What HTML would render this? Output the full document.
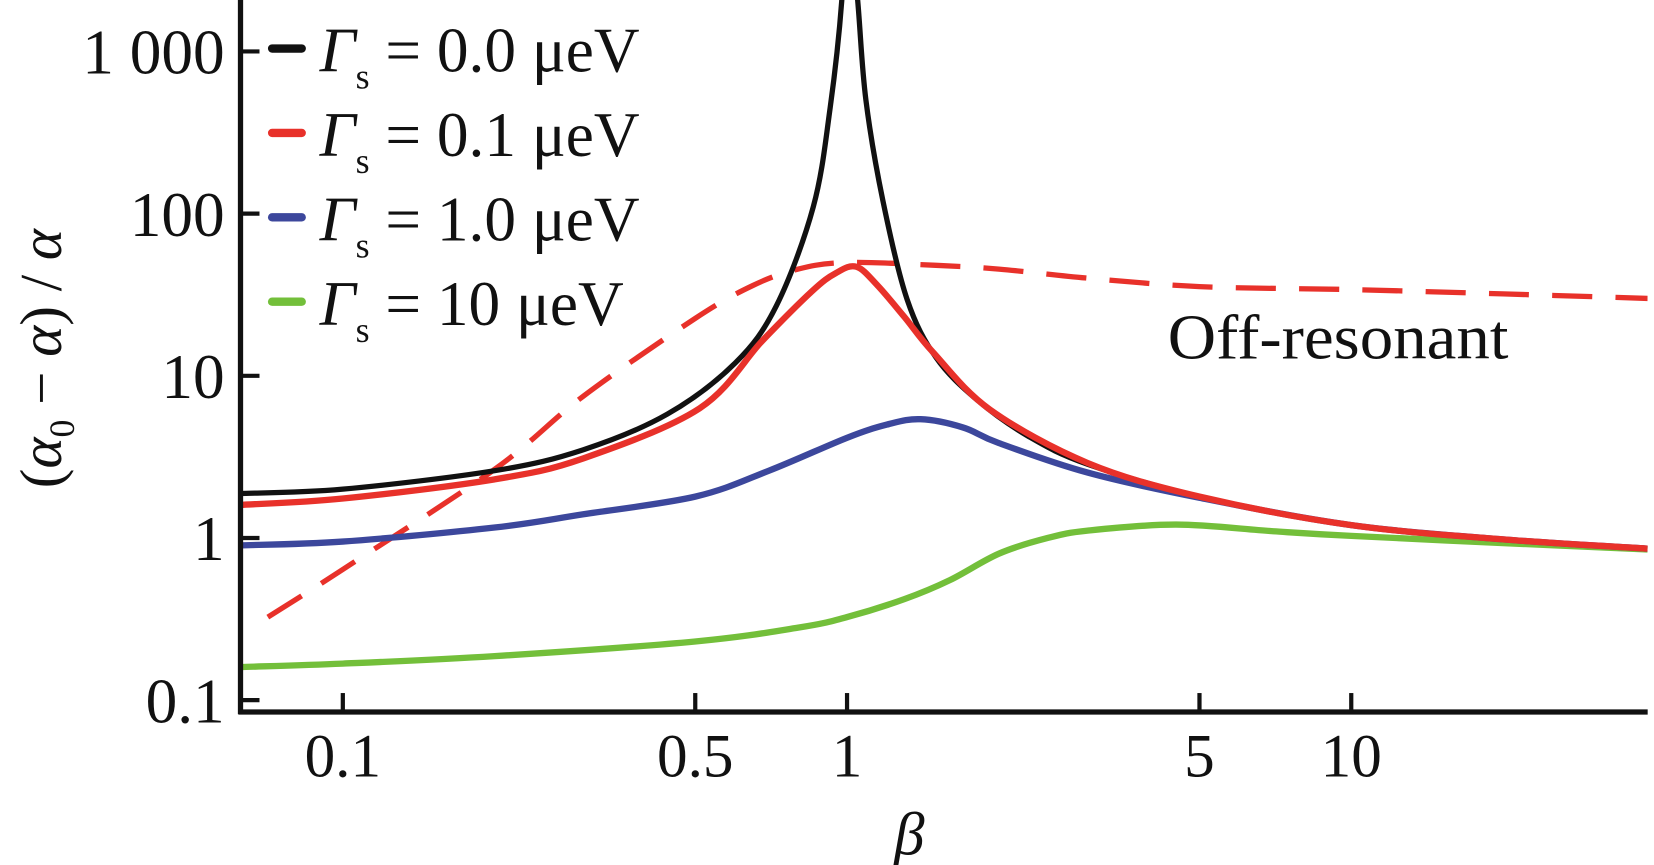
<!DOCTYPE html>
<html><head><meta charset="utf-8"><style>
html,body{margin:0;padding:0;background:#fff;}
svg{display:block;}
text{font-family:"Liberation Serif",serif;fill:#111;}
</style></head><body>
<svg id="chart" width="1654" height="865" viewBox="0 0 1568 820" xmlns="http://www.w3.org/2000/svg">
<g id="plot"></g>
<g id="axes"></g>
<g id="legend"></g>
<text x="1107" y="340" font-size="60" textLength="323" lengthAdjust="spacingAndGlyphs">Off-resonant</text>
<text x="862" y="810" font-size="58" font-style="italic" text-anchor="middle">β</text>
<g transform="translate(58,340) rotate(-90)">
<text text-anchor="middle" font-size="56">(<tspan font-style="italic">α</tspan><tspan font-size="34" dy="12">0</tspan><tspan dy="-12"> − </tspan><tspan font-style="italic">α</tspan>) / <tspan font-style="italic">α</tspan></text>
</g>
</svg>
<script>
const xTicks=[0.1,0.5,1,5,10];
const xTickLabels=["0.1","0.5","1","5","10"];
const yTicks=[1000,100,10,1,0.1];
const yTickLabels=["1 000","100","10","1","0.1"];
const legendValues=["0.0","0.1","1.0","10"];
const colors=["#111111","#e8312a","#3c479c","#73bf3a"];
const blackX=[0.0627,0.1,0.2,0.3,0.44,0.6,0.724,0.857,0.926,0.976,0.995,1.005,1.05,1.09,1.178,1.316,1.5,1.81,2.3,3,5,10,20,38.7];
const blackY=[1.88,2.0,2.6,3.5,5.8,12,27,110,450,2060,9000,9000,2060,500,120,29.5,13,7.1,4.2,2.85,1.8,1.2,0.98,0.86];
const redX=[0.0627,0.1,0.2,0.3,0.51,0.68,0.85,0.95,1.044,1.15,1.3,1.48,1.92,3,5,10,20,38.7];
const redY=[1.6,1.75,2.3,3.1,6.3,16.5,33,43,47,36,23,14,6.2,2.9,1.8,1.2,0.98,0.86];
const blueX=[0.0627,0.1,0.2,0.3,0.5,0.7,1,1.2,1.4,1.7,2,3,5,10,20,38.7];
const blueY=[0.9,0.95,1.16,1.4,1.8,2.6,4.15,5.0,5.4,4.8,3.85,2.53,1.77,1.2,0.98,0.86];
const greenX=[0.0627,0.1,0.2,0.5,0.8,1,1.3,1.6,2,2.5,3,4.5,7,10,20,38.7];
const greenY=[0.16,0.168,0.187,0.23,0.28,0.325,0.42,0.55,0.8,1.0,1.11,1.21,1.1,1.03,0.93,0.85];
const dashX=[0.071,0.1,0.2,0.3,0.5,0.65,0.8,1,1.5,2,3,5,10,20,38.7];
const dashY=[0.325,0.64,2.65,7.5,22.6,36,45.5,50,48,45.5,40,35.5,34,32,30];

const X0=228,X1=1562,Y0=675;
function xs(v){return 803+478*Math.log10(v);}
function ys(v){return 510-153.75*Math.log10(v);}
const NS="http://www.w3.org/2000/svg";
function mk(tag,attrs,parent){const e=document.createElementNS(NS,tag);for(const k in attrs)e.setAttribute(k,attrs[k]);parent.appendChild(e);return e;}
const plot=document.getElementById('plot'),axes=document.getElementById('axes'),legend=document.getElementById('legend');
const defs=mk('defs',{},document.getElementById('chart'));
const cp=mk('clipPath',{id:'clip'},defs);
mk('rect',{x:X0,y:0,width:X1-X0,height:Y0},cp);
plot.setAttribute('clip-path','url(#clip)');
function pathD(xa,ya){
  const p=xa.map((x,i)=>[xs(x),ys(ya[i])]);
  let d='M'+p[0][0].toFixed(1)+','+p[0][1].toFixed(1);
  for(let i=0;i<p.length-1;i++){
    const a=p[Math.max(0,i-1)],b=p[i],c=p[i+1],e=p[Math.min(p.length-1,i+2)];
    const c1=[b[0]+(c[0]-a[0])/6,b[1]+(c[1]-a[1])/6],c2=[c[0]-(e[0]-b[0])/6,c[1]-(e[1]-b[1])/6];
    d+='C'+c1[0].toFixed(1)+','+c1[1].toFixed(1)+' '+c2[0].toFixed(1)+','+c2[1].toFixed(1)+' '+c[0].toFixed(1)+','+c[1].toFixed(1);
  }
  return d;
}
let el;
el=mk('path',{d:pathD(dashX,dashY),fill:'none',stroke:colors[1],'stroke-width':5,'stroke-dasharray':'38,22'},plot);


el=mk('path',{d:pathD(greenX,greenY),fill:'none',stroke:colors[3],'stroke-width':6},plot);


el=mk('path',{d:pathD(blueX,blueY),fill:'none',stroke:colors[2],'stroke-width':6},plot);


el=mk('path',{d:pathD(blackX,blackY),fill:'none',stroke:colors[0],'stroke-width':5},plot);


el=mk('path',{d:pathD(redX,redY),fill:'none',stroke:colors[1],'stroke-width':6},plot);



el=mk('line',{x1:X0,y1:0,x2:X0,y2:Y0+2,stroke:'#111','stroke-width':5},axes);


el=mk('line',{x1:X0-2,y1:Y0,x2:X1,y2:Y0,stroke:'#111','stroke-width':5},axes);


xTicks.forEach((v,i)=>{
  const t=mk('line',{x1:xs(v),y1:Y0,x2:xs(v),y2:Y0-18,stroke:'#111','stroke-width':4},axes);
  
  
  const l=mk('text',{x:xs(v),y:736,'font-size':58,'text-anchor':'middle'},axes);
  l.textContent=xTickLabels[i];
  
  
});
yTicks.forEach((v,i)=>{
  const t=mk('line',{x1:X0,y1:ys(v),x2:X0+18,y2:ys(v),stroke:'#111','stroke-width':4},axes);
  
  
  const l=mk('text',{x:213,y:ys(v)+21,'font-size':60,'text-anchor':'end'},axes);
  l.textContent=yTickLabels[i];
  
  
});
legendValues.forEach((v,i)=>{
  const y=46+i*80;
  const g=mk('g',{},legend);
  
  
  mk('line',{x1:258,y1:y,x2:286,y2:y,stroke:colors[i],'stroke-width':8,'stroke-linecap':'round'},g);
  const t=mk('text',{x:303,y:y+22,'font-size':60},g);
  t.innerHTML='<tspan font-style="italic">Γ</tspan><tspan font-size="34" dy="16">s</tspan><tspan dy="-16"> = '+v+' μeV</tspan>';
});
</script>
</body></html>
